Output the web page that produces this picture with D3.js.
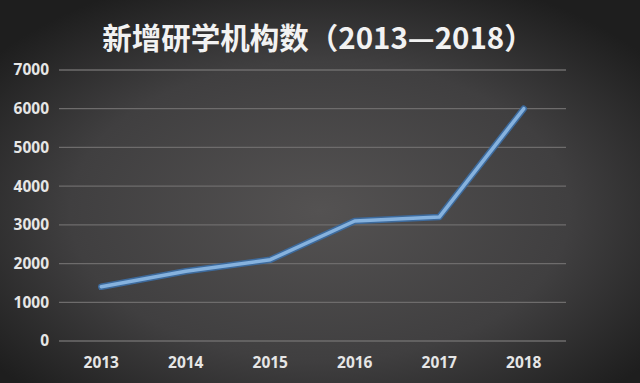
<!DOCTYPE html>
<html><head><meta charset="utf-8">
<script src="https://cdn.jsdelivr.net/npm/d3@7"></script>
<style>html,body{margin:0;padding:0;background:#2a2a2a;}svg{display:block;}</style>
</head><body>
<script>
const categories = ["2013","2014","2015","2016","2017","2018"];
const values = [1400, 1800, 2100, 3100, 3200, 6000];
const yTicks = [0,1000,2000,3000,4000,5000,6000,7000];
const title = "新增研学机构数（2013—2018）";

const W = 640, H = 383;
const svg = d3.select("body").append("svg").attr("width", W).attr("height", H);
const defs = svg.append("defs");
const rg = defs.append("radialGradient").attr("id","bg").attr("cx","50%").attr("cy","55%").attr("r","65%");
rg.append("stop").attr("offset","0%").attr("stop-color","#545252");
rg.append("stop").attr("offset","60%").attr("stop-color","#403f40");
rg.append("stop").attr("offset","100%").attr("stop-color","#1e1e1e");
svg.append("rect").attr("width",W).attr("height",H).attr("fill","url(#bg)");

const x = d3.scaleBand().domain(categories).range([59, 566]);
const y = d3.scaleLinear().domain([0,7000]).range([341, 70]);

const grid = svg.append("g");
grid.selectAll("line").data(yTicks).join("line")
  .attr("x1", 59).attr("x2", 566)
  .attr("y1", d => y(d)).attr("y2", d => y(d))
  .attr("stroke", "#6e6c6c").attr("stroke-width", 1.3);

const font = "'Open Sans', 'DejaVu Sans', sans-serif";
const yAxis = svg.append("g").attr("transform","translate(49,0)")
  .call(d3.axisLeft(y).tickValues(yTicks).tickSize(0).tickPadding(0).tickFormat(d3.format("d")));
yAxis.select(".domain").remove();
yAxis.selectAll("text").attr("fill","#e6e6e6").attr("font-family",font)
  .attr("font-weight","bold").attr("font-size",15.5);

const xAxis = svg.append("g").attr("transform","translate(0,357)")
  .call(d3.axisBottom(x).tickSize(0).tickPadding(0));
xAxis.select(".domain").remove();
xAxis.selectAll("text").attr("fill","#e6e6e6").attr("font-family",font)
  .attr("font-weight","bold").attr("font-size",15.5).attr("y",0).attr("dy","0.72em");

const line = d3.line().x((d,i) => x(categories[i]) + x.bandwidth()/2).y(d => y(d));
svg.append("path").datum(values).attr("d", line).attr("fill","none")
  .attr("stroke","#3d6a9c").attr("stroke-width",6.5).attr("stroke-linecap","round").attr("stroke-linejoin","round");
svg.append("path").datum(values).attr("d", line).attr("fill","none")
  .attr("stroke","#86b2de").attr("stroke-width",3.5).attr("stroke-linecap","round").attr("stroke-linejoin","round");

svg.append("text").attr("x", 318).attr("y", 49).attr("text-anchor","middle")
  .attr("fill","#f2f2f2").attr("font-family","'Noto Sans CJK SC', sans-serif").attr("font-weight","bold")
  .attr("font-size",29.5).text(title);
</script>
</body></html>
